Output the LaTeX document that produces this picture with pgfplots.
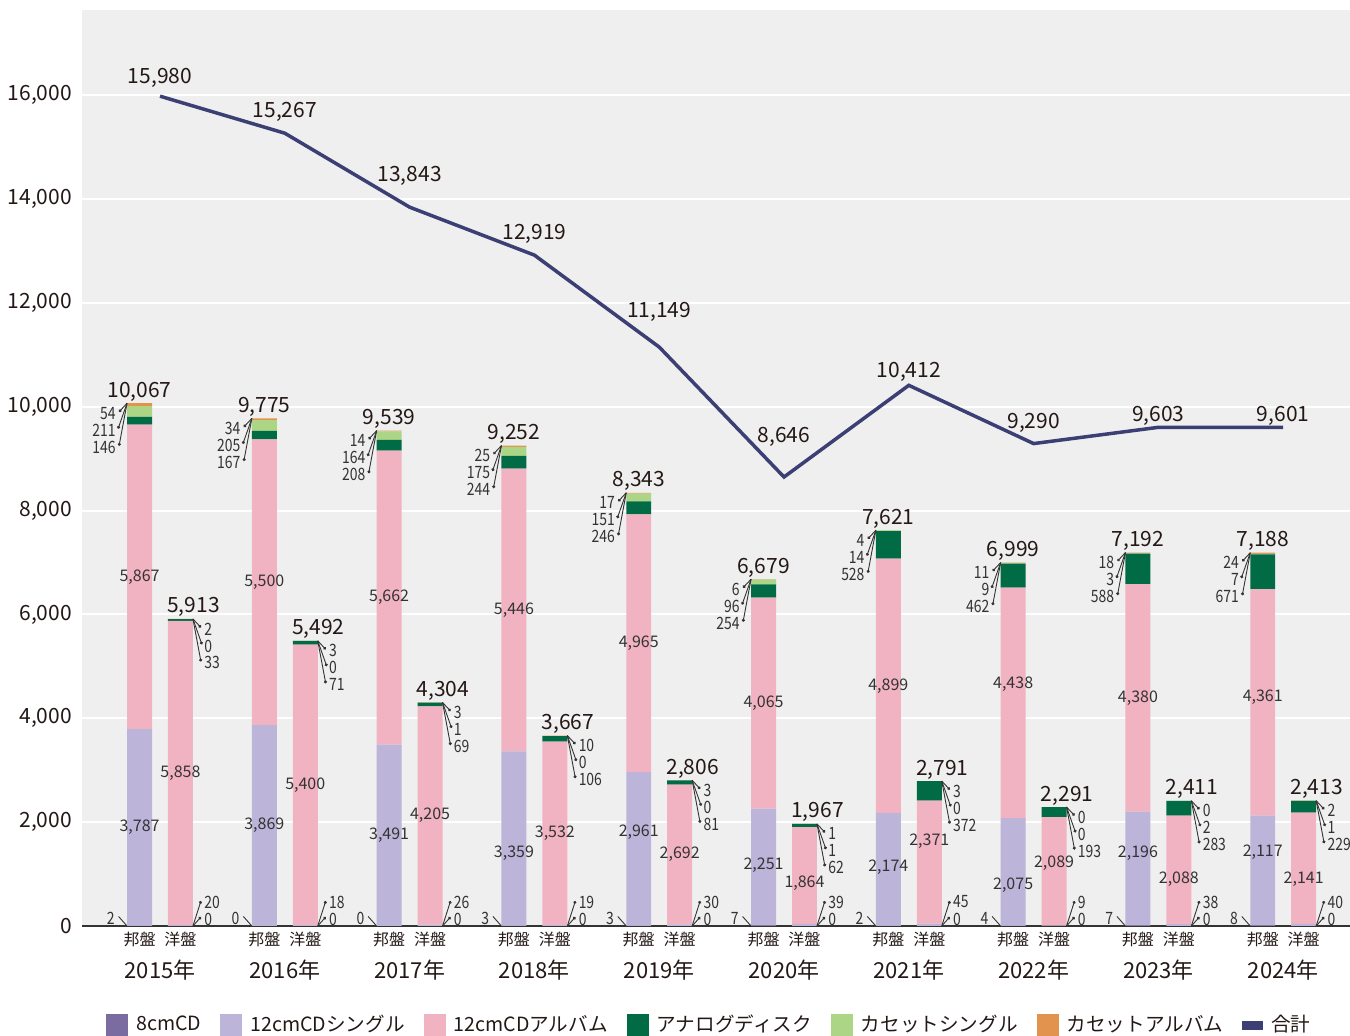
\documentclass[border=0pt]{standalone}
\usepackage{fontspec}
\setmainfont{Noto Sans CJK JP}
\newfontfamily\condfont{Noto Sans CJK JP}[FakeStretch=0.82]
\usepackage{pgfplots}
\usepackage{pgfplotstable}
\pgfplotsset{compat=1.18}
\usetikzlibrary{arrows.meta}

\definecolor{c8}{HTML}{7A6CA0}
\definecolor{s12}{HTML}{BCB4D9}
\definecolor{a12}{HTML}{F1B2C2}
\definecolor{an}{HTML}{006B45}
\definecolor{cs}{HTML}{ACD585}
\definecolor{ca}{HTML}{E2944F}
\definecolor{totc}{HTML}{3B3F73}
\definecolor{bg}{HTML}{EFEFEF}
\definecolor{txt}{HTML}{231815}
\definecolor{txt2}{HTML}{333333}
\definecolor{axc}{HTML}{333333}

\newcommand\fs[1]{\fontsize{#1}{#1}\selectfont}

% 邦盤 (ds, da: label offsets in px, downwards)
\pgfplotstableread{
x side c8 s12 a12 an cs ca tot ds da
0 -1 2 3787 5867 146 211 54 10067 0 0
1 -1 0 3869 5500 167 205 34 9775 0 0
2 -1 0 3491 5662 208 164 14 9539 0 0
3 -1 3 3359 5446 244 175 25 9252 15 0
4 -1 3 2961 4965 246 151 17 8343 -17 0
5 -1 7 2251 4065 254 96 6 6679 -2 0
6 -1 2 2174 4899 528 14 4 7621 -2 0
7 -1 4 2075 4438 462 9 11 6999 13 -19
8 -1 7 2196 4380 588 3 18 7192 -15 0
9 -1 8 2117 4361 671 7 24 7188 -18 -5
}\hou
% 洋盤
\pgfplotstableread{
x side c8 s12 a12 an cs ca tot ds da
0 1 0 20 5858 33 0 2 5913 0 0
1 1 0 18 5400 71 0 3 5492 0 0
2 1 0 26 4205 69 1 3 4304 0 0
3 1 0 19 3532 106 0 10 3667 0 0
4 1 0 30 2692 81 0 3 2806 0 0
5 1 0 39 1864 62 1 1 1967 0 8
6 1 0 45 2371 372 0 3 2791 0 -21
7 1 0 9 2089 193 0 0 2291 0 -8
8 1 0 38 2088 283 2 0 2411 0 9
9 1 0 40 2141 229 1 2 2413 0 11
}\you
% 合計
\pgfplotstableread{
x total dy
0 15980 21
1 15267 24
2 13843 34
3 12919 24
4 11149 38
5 8646 43
6 10412 16
7 9290 23
8 9603 14
9 9601 14
}\totals
\pgfplotstablevertcat{\bars}{\hou}
\pgfplotstablevertcat{\bars}{\you}

\pgfplotsset{
  common/.style={
    at={(0,0)}, anchor=south west,
    scale only axis, width=634pt, height=458pt,
    xmin=-0.625, xmax=9.535, ymin=0, ymax=17640,
    /pgf/number format/assume math mode=true,
    major tick length=0pt,
  },
  sqleg/.style={legend image code/.code={\fill[##1] (0pt,-5.5pt) rectangle (11pt,5.5pt); \path (13pt,0pt);}},
  lbl/.style={draw=none, mark=none, nodes near coords, point meta=explicit,
    every node near coord/.append style={inner sep=0pt, text=txt2, font=\condfont\fs{8.5}}},
  mid/.style={draw=none, mark=none, nodes near coords, point meta=explicit,
    every node near coord/.append style={inner sep=0pt, anchor=center, text=txt2, font=\fs{8}}},
  totl/.style={draw=none, mark=none, nodes near coords, point meta=explicit,
    every node near coord/.append style={inner sep=0pt, anchor=base, yshift=3pt, text=txt, font=\fs{10.5}}},
  lead/.style={draw=txt2, line width=0.45pt},
}

\begin{document}
\begin{tikzpicture}
\path[use as bounding box] (-41pt,-55pt) rectangle (634pt,463pt);

\begin{axis}[common,
  ybar stacked, bar width=0.2,
  axis background/.style={fill=bg},
  axis x line*=bottom, axis y line*=left,
  y axis line style={draw=none},
  x axis line style={draw=axc, line width=1pt, -},
  ytick={0,2000,...,16000}, scaled y ticks=false,
  ymajorgrids, grid style={white, line width=1pt},
  yticklabel style={font=\fs{10.5}, text=txt, xshift=-1.5pt},
  xtick={-0.164,0.164,0.836,1.164,1.836,2.164,2.836,3.164,3.836,4.164,4.836,5.164,5.836,6.164,6.836,7.164,7.836,8.164,8.836,9.164},
  xticklabels={邦盤,洋盤,邦盤,洋盤,邦盤,洋盤,邦盤,洋盤,邦盤,洋盤,邦盤,洋盤,邦盤,洋盤,邦盤,洋盤,邦盤,洋盤,邦盤,洋盤},
  xticklabel style={anchor=center, yshift=-6.5pt, inner sep=0pt, font=\fs{8}, text=txt},
  legend style={at={(0.0189,-0.108)}, anchor=west, draw=none, fill=none, inner sep=0pt,
    font=\fs{9.8}, text=txt, legend columns=-1,
    /tikz/every even column/.append style={column sep=7.5pt}},
]
\addplot[fill=c8, draw=none, sqleg] table[x expr=\thisrow{x}+0.164*\thisrow{side}, y=c8]{\bars};
\addlegendentry{8cmCD}
\addplot[fill=s12, draw=none, sqleg] table[x expr=\thisrow{x}+0.164*\thisrow{side}, y=s12]{\bars};
\addlegendentry{12cmCDシングル}
\addplot[fill=a12, draw=none, sqleg] table[x expr=\thisrow{x}+0.164*\thisrow{side}, y=a12]{\bars};
\addlegendentry{12cmCDアルバム}
\addplot[fill=an, draw=none, sqleg] table[x expr=\thisrow{x}+0.164*\thisrow{side}, y=an]{\bars};
\addlegendentry{アナログディスク}
\addplot[fill=cs, draw=none, sqleg] table[x expr=\thisrow{x}+0.164*\thisrow{side}, y=cs]{\bars};
\addlegendentry{カセットシングル}
\addplot[fill=ca, draw=none, sqleg] table[x expr=\thisrow{x}+0.164*\thisrow{side}, y=ca]{\bars};
\addlegendentry{カセットアルバム}
\addlegendimage{legend image code/.code={\fill[totc] (0pt,-2pt) rectangle (10pt,2pt); \path (12pt,0pt);}}
\addlegendentry{合計}
\end{axis}

\begin{axis}[common, clip=false,
  axis line style={draw=none},
  ytick=\empty,
  xtick={0,...,9},
  xticklabels={2015年,2016年,2017年,2018年,2019年,2020年,2021年,2022年,2023年,2024年},
  xticklabel style={anchor=center, yshift=-22pt, inner sep=0pt, font=\fs{11}, text=txt},
]
% total line
\addplot[totc, line width=1.75pt, mark=none, nodes near coords, point meta=explicit,
  visualization depends on={\thisrow{dy}\as\dy},
  every node near coord/.append style={anchor=center, inner sep=0pt, yshift=\dy*0.5pt-1.2pt, text=txt, font=\fs{10.5}}]
  table[x=x, y=total, meta=total]{\totals};

% ---- 邦盤 labels
\addplot[mid] table[x expr=\thisrow{x}-0.164, y expr=\thisrow{c8}+0.5*\thisrow{s12}-19.25*\thisrow{ds}, meta=s12]{\hou};
\addplot[mid] table[x expr=\thisrow{x}-0.164, y expr=\thisrow{c8}+\thisrow{s12}+0.5*\thisrow{a12}-19.25*\thisrow{da}, meta=a12]{\hou};
\addplot[totl] table[x expr=\thisrow{x}-0.164, y=tot, meta=tot]{\hou};
\addplot[lbl, every node near coord/.append style={anchor=east, xshift=-5.5pt, yshift=-5pt}] table[x expr=\thisrow{x}-0.264, y=tot, meta=ca]{\hou};
\addplot[lbl, every node near coord/.append style={anchor=east, xshift=-5.5pt, yshift=-13.5pt}] table[x expr=\thisrow{x}-0.264, y=tot, meta=cs]{\hou};
\addplot[lbl, every node near coord/.append style={anchor=east, xshift=-5.5pt, yshift=-22pt}] table[x expr=\thisrow{x}-0.264, y=tot, meta=an]{\hou};
\addplot[lbl, every node near coord/.append style={anchor=east, xshift=-6pt, yshift=4pt}] table[x expr=\thisrow{x}-0.264, y expr=0, meta=c8]{\hou};
% leaders
\addplot[lead, quiver={u=-0.064, v=-165, every arrow/.append style={-{Circle[length=1.5pt]}}}] table[x expr=\thisrow{x}-0.264, y=tot]{\hou};
\addplot[lead, quiver={u=-0.072, v=-490, every arrow/.append style={-{Circle[length=1.5pt]}}}] table[x expr=\thisrow{x}-0.264, y=tot]{\hou};
\addplot[lead, quiver={u=-0.064, v=-820, every arrow/.append style={-{Circle[length=1.5pt]}}}] table[x expr=\thisrow{x}-0.264, y=tot]{\hou};
\addplot[lead, quiver={u=-0.064, v=173}] table[x expr=\thisrow{x}-0.268, y expr=10]{\hou};

% ---- 洋盤 labels
\addplot[mid] table[x expr=\thisrow{x}+0.164, y expr=\thisrow{c8}+\thisrow{s12}+0.5*\thisrow{a12}-19.25*\thisrow{da}, meta=a12]{\you};
\addplot[totl, every node near coord/.append style={xshift=6.5pt}] table[x expr=\thisrow{x}+0.164, y=tot, meta=tot]{\you};
\addplot[lbl, every node near coord/.append style={anchor=west, xshift=5.5pt, yshift=-5pt}] table[x expr=\thisrow{x}+0.264, y=tot, meta=ca]{\you};
\addplot[lbl, every node near coord/.append style={anchor=west, xshift=5.5pt, yshift=-13.5pt}] table[x expr=\thisrow{x}+0.264, y=tot, meta=cs]{\you};
\addplot[lbl, every node near coord/.append style={anchor=west, xshift=5.5pt, yshift=-22pt}] table[x expr=\thisrow{x}+0.264, y=tot, meta=an]{\you};
\addplot[lbl, every node near coord/.append style={anchor=west, xshift=5.5pt, yshift=12pt}] table[x expr=\thisrow{x}+0.264, y expr=0, meta=s12]{\you};
\addplot[lbl, every node near coord/.append style={anchor=west, xshift=5.5pt, yshift=3.5pt}] table[x expr=\thisrow{x}+0.264, y expr=0, meta=c8]{\you};
% leaders
\addplot[lead, quiver={u=0.064, v=-165, every arrow/.append style={-{Circle[length=1.5pt]}}}] table[x expr=\thisrow{x}+0.264, y=tot]{\you};
\addplot[lead, quiver={u=0.072, v=-490, every arrow/.append style={-{Circle[length=1.5pt]}}}] table[x expr=\thisrow{x}+0.264, y=tot]{\you};
\addplot[lead, quiver={u=0.064, v=-820, every arrow/.append style={-{Circle[length=1.5pt]}}}] table[x expr=\thisrow{x}+0.264, y=tot]{\you};
\addplot[lead, quiver={u=0.064, v=481, every arrow/.append style={-{Circle[length=1.5pt]}}}] table[x expr=\thisrow{x}+0.264, y expr=0]{\you};
\addplot[lead, quiver={u=0.064, v=173, every arrow/.append style={-{Circle[length=1.5pt]}}}] table[x expr=\thisrow{x}+0.264, y expr=0]{\you};
\end{axis}
\end{tikzpicture}
\end{document}
